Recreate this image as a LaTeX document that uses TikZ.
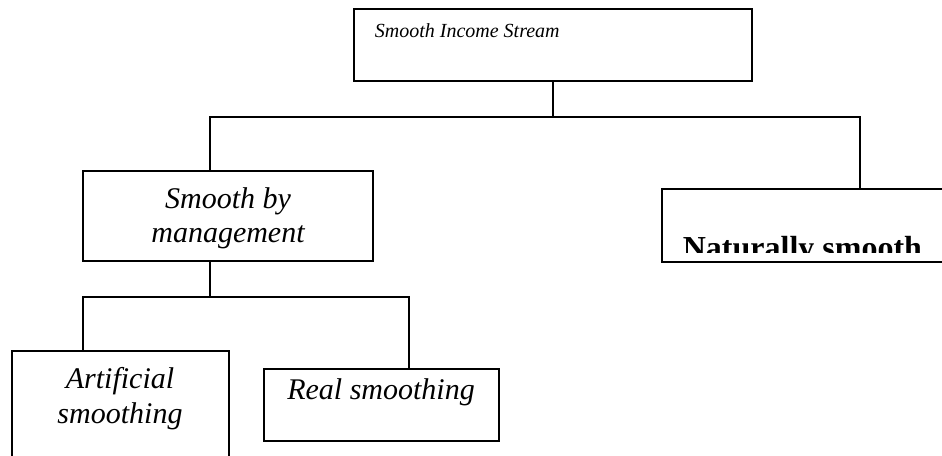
\documentclass[tikz,border=0pt]{standalone}
\usepackage{fontspec}
\setmainfont{Liberation Serif}
\usepackage{tikz}

\tikzset{
  box/.style = {draw, line width=1.3pt, inner sep=0pt, outer sep=0pt},
  label/.style = {inner sep=0pt, font=\fontsize{22.5}{26.25}\selectfont\itshape},
}

\begin{document}
\begin{tikzpicture}[x=0.75pt, y=-0.75pt, line width=1.3pt]
    \path[use as bounding box, clip] (0,0) rectangle (942,455);

    % boxes
    \node[box, minimum width=298.5pt, minimum height=54pt] (income) at (553,45) {};
    \node[box, minimum width=217.5pt, minimum height=67.5pt] (mgmt) at (228,216) {};
    \node[box, minimum width=297pt, minimum height=54.75pt] (natural) at (860,225.5) {};
    \node[box, minimum width=162.75pt, minimum height=93pt] (artificial) at (120.5,413) {};
    \node[box, minimum width=176.25pt, minimum height=54pt] (real) at (381.5,405) {};

    % bus points
    \coordinate (busL) at (210,117);
    \coordinate (busR) at (860,117);
    \coordinate (subL) at (83,297);
    \coordinate (subR) at (409,297);

    \draw (income.south) -- (income.south |- busL);
    \draw (busL |- mgmt.north) -- (busL) -- (busR) -- (busR |- natural.north);
    \draw (busL |- mgmt.south) -- (busL |- subL);
    \draw (subL |- artificial.north) -- (subL) -- (subR) -- (subR |- real.north);

    % texts
    \node[label, anchor=base west, font=\fontsize{15}{18}\selectfont\itshape] (incometext) at (374,37) {Smooth Income Stream};
    \node[label, anchor=base] (mgmttext1) at (228,208) {Smooth by};
    \node[label, anchor=base] (mgmttext2) at (228,242) {management};
    \node[label, anchor=base] (arttext1) at (120,388) {Artificial};
    \node[label, anchor=base] (arttext2) at (120,423) {smoothing};
    \node[label, anchor=base] (realtext) at (381,399) {Real smoothing};
    \begin{scope}
      \clip (662,189) rectangle (942,252);
      \node[inner sep=0pt, anchor=base west, font=\fontsize{24}{28}\selectfont\bfseries] (naturaltext) at (682,258) {Naturally smooth};
    \end{scope}
\end{tikzpicture}
\end{document}
